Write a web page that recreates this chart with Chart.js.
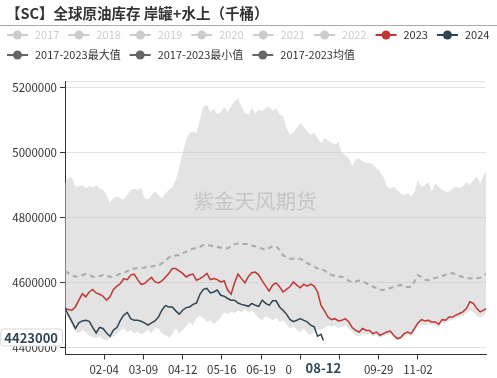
<!DOCTYPE html>
<html>
<head>
<meta charset="utf-8">
<script src="https://cdn.jsdelivr.net/npm/chart.js@4/dist/chart.umd.min.js"></script>
<style>
  html, body { margin: 0; padding: 0; background: #fff; }
  canvas { display: block; }
</style>
</head>
<body>
<canvas id="c" width="497" height="378"></canvas>
<script>
// sample days (day-of-year index, 0 = 01-01), one reading every 3 days
const days = Array.from({length: 122}, (_, i) => i * 3).concat(365);
const days2024 = days.slice(0, 75).concat(224);

const maxVals = [
  4905000,4922000,4923000,4895000,4897000,4900000,4890000,4898000,4893000,4900000,
  4890000,4885000,4870000,4845000,4860000,4865000,4860000,4855000,4870000,4885000,
  4890000,4885000,4893000,4860000,4855000,4870000,4880000,4870000,4860000,4875000,
  4885000,4893000,4916000,4953000,5000000,5039000,5060000,5065000,5060000,5100000,
  5142000,5147000,5125000,5135000,5118000,5125000,5140000,5125000,5142000,5157000,
  5167000,5142000,5121000,5117000,5137000,5121000,5131000,5127000,5137000,5142000,
  5127000,5137000,5117000,5112000,5076000,5055000,5060000,5076000,5090000,5080000,
  5065000,5055000,5060000,5045000,5029000,5045000,5037000,5030000,5024000,5034000,
  4999000,4993000,4983000,4958000,4978000,4983000,4973000,4968000,4968000,4963000,
  4952000,4942000,4926000,4895000,4890000,4895000,4885000,4875000,4870000,4875000,
  4865000,4880000,4916000,4895000,4900000,4910000,4880000,4905000,4895000,4885000,
  4880000,4880000,4890000,4895000,4890000,4896000,4910000,4900000,4916000,4926000,
  4905000,4931000,4942000
];
const minVals = [
  4505000,4492000,4470000,4451000,4445000,4455000,4449000,4439000,4433000,4430000,
  4436000,4427000,4424000,4430000,4436000,4442000,4455000,4461000,4449000,4455000,
  4445000,4451000,4442000,4449000,4455000,4445000,4461000,4460000,4445000,4439000,
  4433000,4442000,4461000,4445000,4455000,4467000,4479000,4470000,4492000,4498000,
  4492000,4479000,4485000,4473000,4482000,4492000,4510000,4504000,4513000,4507000,
  4516000,4510000,4519000,4510000,4516000,4504000,4492000,4485000,4498000,4492000,
  4485000,4492000,4479000,4485000,4473000,4461000,4467000,4455000,4449000,4461000,
  4445000,4439000,4451000,4455000,4455000,4462000,4470000,4465000,4468000,4462000,
  4465000,4470000,4460000,4450000,4440000,4435000,4442000,4440000,4444000,4436000,
  4440000,4432000,4436000,4440000,4444000,4432000,4424000,4426000,4436000,4440000,
  4436000,4450000,4466000,4474000,4470000,4474000,4470000,4470000,4463000,4476000,
  4476000,4484000,4486000,4492000,4495000,4498000,4505000,4515000,4510000,4500000,
  4492000,4500000,4508000
];
const avgVals = [
  4636000,4630000,4624000,4619000,4620000,4624000,4627000,4624000,4619000,4619000,
  4620000,4624000,4622000,4619000,4619000,4624000,4628000,4631000,4636000,4642000,
  4644000,4645000,4645000,4647000,4649000,4650000,4653000,4654000,4660000,4667000,
  4678000,4681000,4684000,4685000,4691000,4696000,4701000,4705000,4708000,4711000,
  4716000,4716000,4715000,4712000,4711000,4708000,4707000,4706000,4713000,4719000,
  4721000,4721000,4719000,4719000,4715000,4712000,4710000,4705000,4701000,4707000,
  4713000,4712000,4701000,4685000,4679000,4674000,4674000,4674000,4674000,4667000,
  4661000,4655000,4650000,4644000,4644000,4638000,4630000,4624000,4622000,4619000,
  4619000,4613000,4607000,4602000,4604000,4607000,4605000,4599000,4593000,4588000,
  4584000,4579000,4578000,4581000,4584000,4587000,4591000,4593000,4590000,4587000,
  4587000,4605000,4624000,4618000,4610000,4608000,4611000,4616000,4618000,4621000,
  4625000,4628000,4630000,4625000,4621000,4618000,4614000,4614000,4613000,4614000,
  4616000,4624000,4627000
];
const vals2023 = [
  4521000,4518000,4516000,4526000,4547000,4567000,4557000,4572000,4580000,4569000,
  4565000,4559000,4547000,4557000,4580000,4590000,4598000,4613000,4610000,4624000,
  4627000,4610000,4595000,4598000,4608000,4617000,4603000,4600000,4606000,4617000,
  4629000,4644000,4644000,4637000,4629000,4618000,4624000,4627000,4608000,4613000,
  4620000,4629000,4610000,4613000,4610000,4603000,4606000,4578000,4565000,4600000,
  4627000,4613000,4600000,4620000,4631000,4633000,4624000,4606000,4590000,4575000,
  4593000,4600000,4588000,4572000,4580000,4588000,4603000,4593000,4585000,4596000,
  4590000,4596000,4590000,4572000,4531000,4514000,4495000,4487000,4490000,4483000,
  4485000,4490000,4480000,4463000,4454000,4449000,4460000,4454000,4454000,4444000,
  4449000,4439000,4444000,4449000,4452000,4439000,4429000,4432000,4444000,4449000,
  4444000,4460000,4477000,4487000,4483000,4485000,4480000,4480000,4473000,4487000,
  4485000,4495000,4495000,4501000,4506000,4511000,4521000,4542000,4537000,4521000,
  4511000,4516000,4521000
];
const vals2024 = [
  4522000,4501000,4481000,4460000,4477000,4483000,4485000,4482000,4463000,4446000,
  4463000,4460000,4446000,4436000,4455000,4463000,4485000,4501000,4509000,4490000,
  4485000,4485000,4482000,4477000,4470000,4477000,4483000,4495000,4516000,4530000,
  4526000,4526000,4514000,4504000,4516000,4524000,4526000,4534000,4538000,4565000,
  4580000,4583000,4569000,4572000,4578000,4562000,4559000,4552000,4547000,4547000,
  4538000,4534000,4531000,4528000,4537000,4531000,4528000,4547000,4537000,4531000,
  4545000,4545000,4526000,4516000,4504000,4488000,4481000,4485000,4490000,4485000,
  4480000,4470000,4465000,4436000,4442000,4423000
];

const tickDays = [34, 68, 102, 136, 170, 204, 238, 272, 306];
const tickLabels = ['02-04','03-09','04-12','05-16','06-19','07-23','08-26','09-29','11-02'];
const yTicks = [4400000, 4600000, 4800000, 5000000, 5200000];
const yMin = 4380000, yMax = 5220000;

const titleText = '【SC】全球原油库存 岸罐+水上（千桶）';
const legendRow1 = ['2017','2018','2019','2020','2021','2022','2023','2024'];
const legendRow1Colors = ['#ccc','#ccc','#ccc','#ccc','#ccc','#ccc','#c23531','#2f4554'];
const legendRow2 = ['2017-2023最大值','2017-2023最小值','2017-2023均值'];
const watermark = '紫金天风期货';

const FONT = '"Noto Sans CJK SC", "Noto Sans", sans-serif';
Chart.defaults.font.family = FONT;

function mmdd(day) {
  const d = new Date(2024, 0, 1 + day);
  return String(d.getMonth() + 1).padStart(2, '0') + '-' + String(d.getDate()).padStart(2, '0');
}
const pts = (xs, ys) => xs.map((x, i) => ({x, y: ys[i]}));

const decor = {
  id: 'decor',
  beforeDraw(chart) {
    const ctx = chart.ctx;
    ctx.save();
    ctx.fillStyle = '#fff';
    ctx.fillRect(0, 0, chart.width, chart.height);
    // title + rule
    ctx.font = 'bold 14.5px ' + FONT;
    ctx.fillStyle = '#333';
    ctx.textAlign = 'left';
    ctx.textBaseline = 'middle';
    ctx.fillText(titleText, 6, 13.5);
    ctx.strokeStyle = '#aaa';
    ctx.lineWidth = 1;
    ctx.beginPath(); ctx.moveTo(0, 25.5); ctx.lineTo(chart.width, 25.5); ctx.stroke();
    // legend
    ctx.font = '11px ' + FONT;
    const rows = [
      [legendRow1, legendRow1Colors, 35],
      [legendRow2, legendRow2.map(() => '#666'), 55]
    ];
    rows.forEach(([names, colors, y]) => {
      let x = 7;
      names.forEach((name, i) => {
        const c = colors[i];
        ctx.strokeStyle = c; ctx.fillStyle = c; ctx.lineWidth = 2;
        ctx.beginPath(); ctx.moveTo(x, y); ctx.lineTo(x + 21, y); ctx.stroke();
        ctx.beginPath(); ctx.arc(x + 10.5, y, 4.5, 0, Math.PI * 2); ctx.fill();
        ctx.fillStyle = c === '#ccc' ? '#ccc' : '#333';
        ctx.fillText(name, x + 28, y);
        x += 28 + ctx.measureText(name).width + 9;
      });
    });
    ctx.restore();
  },
  afterDatasetsDraw(chart) {
    const ctx = chart.ctx;
    ctx.save();
    ctx.font = '20.5px ' + FONT;
    ctx.fillStyle = '#c6c6c6';
    ctx.textAlign = 'center';
    ctx.textBaseline = 'middle';
    ctx.fillText(watermark, 255, 201);
    ctx.restore();
  },
  afterDraw(chart) {
    const ctx = chart.ctx, xs = chart.scales.x, ys = chart.scales.y, area = chart.chartArea;
    const lastDay = days2024[days2024.length - 1];
    const lastVal = vals2024[vals2024.length - 1];
    ctx.save();
    ctx.font = 'bold 13px ' + FONT;
    ctx.textAlign = 'center';
    ctx.textBaseline = 'middle';
    // x pointer label
    const px = xs.getPixelForValue(lastDay);
    ctx.fillStyle = '#fff';
    ctx.fillRect(px - 31, area.bottom + 6, 62, 18);
    ctx.fillStyle = '#2f4554';
    ctx.fillText(mmdd(lastDay), px, area.bottom + 14);
    // y pointer label
    const py = ys.getPixelForValue(lastVal) - 3;
    const label = String(lastVal);
    const w = ctx.measureText(label).width + 8;
    const right = area.left - 3;
    ctx.fillStyle = '#fff';
    ctx.strokeStyle = '#d6d6d6';
    ctx.lineWidth = 1;
    ctx.beginPath();
    ctx.roundRect(right - w + 0.5, py - 8.5, w, 17, 3);
    ctx.fill(); ctx.stroke();
    ctx.fillStyle = '#2f4554';
    ctx.fillText(label, right - w / 2, py + 0.5);
    ctx.restore();
  }
};

new Chart(document.getElementById('c'), {
  type: 'line',
  data: {
    datasets: [
      { label: '2024', data: pts(days2024, vals2024), borderColor: '#2f4554', borderWidth: 1.5, order: 0 },
      { label: '2023', data: pts(days, vals2023), borderColor: '#c23531', borderWidth: 1.5, order: 1 },
      { label: '2017-2023均值', data: pts(days, avgVals), borderColor: '#aaa', borderWidth: 2, borderDash: [5, 4], order: 2 },
      { label: '2017-2023最大值', data: pts(days, maxVals), borderColor: 'rgba(0,0,0,0)', borderWidth: 0,
        backgroundColor: 'rgba(200,200,200,0.5)', fill: '+1', order: 3 },
      { label: '2017-2023最小值', data: pts(days, minVals), borderColor: 'rgba(0,0,0,0)', borderWidth: 0, order: 4 }
    ]
  },
  options: {
    responsive: false,
    devicePixelRatio: 1,
    animation: false,
    events: [],
    layout: { padding: { top: 81, right: 11, left: 0, bottom: 0 } },
    elements: { point: { radius: 0 }, line: { tension: 0, fill: false } },
    plugins: { legend: { display: false }, tooltip: { enabled: false }, title: { display: false } },
    scales: {
      x: {
        type: 'linear', min: 0, max: 365,
        afterBuildTicks: s => { s.ticks = tickDays.map(v => ({value: v})); },
        afterFit: s => { s.height = 23.5; },
        ticks: { autoSkip: false, maxRotation: 0, padding: 3, color: '#333', font: { size: 11.5 },
                 callback: (v, i) => tickLabels[i] },
        grid: { drawOnChartArea: false, tickLength: 5, tickColor: '#333' },
        border: { color: '#333' }
      },
      y: {
        min: yMin, max: yMax,
        afterBuildTicks: s => { s.ticks = yTicks.concat(yMax).map(v => ({value: v})); },
        afterFit: s => { s.width = 65; },
        ticks: { autoSkip: false, padding: 3, color: '#333', font: { size: 11.5 },
                 callback: v => (v === yMax ? '' : String(v)) },
        grid: { color: '#e2e2e2', tickLength: 5,
                tickColor: c => (c.tick && c.tick.value === yMax ? 'rgba(0,0,0,0)' : '#333') },
        border: { color: '#333' }
      }
    }
  },
  plugins: [decor]
});
</script>
</body>
</html>
